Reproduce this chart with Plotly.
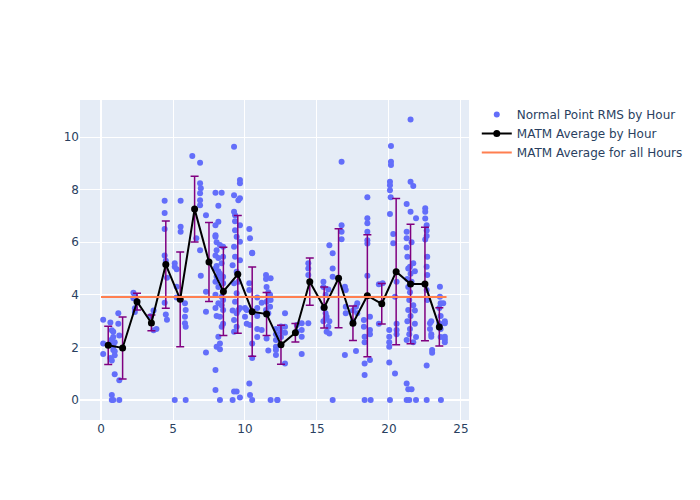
import plotly.graph_objects as go

# Hourly MATM averages (plotted at hour + 0.5) and their spread
avg_hours = [h + 0.5 for h in range(24)]
avg_values = [2.08, 1.98, 3.74, 2.93, 5.15, 3.83, 7.26, 5.25, 4.13, 4.78, 3.36, 3.27,
              2.10, 2.56, 4.50, 3.52, 4.63, 2.92, 3.97, 3.66, 4.88, 4.41, 4.41, 2.78]
avg_errors = [0.73, 1.18, 0.32, 0.30, 1.66, 1.80, 1.25, 1.50, 1.68, 2.24, 1.70, 0.82,
              0.74, 0.35, 0.90, 0.78, 1.88, 0.66, 2.32, 0.77, 2.78, 2.27, 2.16, 0.73]
overall_avg = 3.92
overall_span = [0, 24]

# Normal point RMS samples: each hour position with the values seen there
rms_groups = [
    (0.15, [3.05, 2.15, 1.75]),
    (0.65, [2.95, 2.15, 1.6]),
    (0.75, [2.65, 1.5, 0.0, 0.19, 2.3]),
    (0.85, [2.4, 1.9, 2.6, 2.05, 0.0]),
    (0.95, [1.7, 2.2, 0.98, 1.85]),
    (1.2, [3.3, 2.9]),
    (1.27, [2.45, 0.75, 0.0]),
    (2.25, [4.08, 3.87]),
    (2.35, [3.49, 3.35, 3.95]),
    (3.45, [3.2]),
    (3.65, [3.4, 2.65]),
    (3.85, [2.7]),
    (4.42, [7.58, 7.11, 6.5, 5.5, 3.7]),
    (4.5, [5.3, 3.25]),
    (4.58, [4.65, 3.05]),
    (5.12, [5.2, 5.07, 0.0]),
    (5.25, [4.97, 4.31, 3.9]),
    (5.53, [7.58, 6.59, 6.4]),
    (5.83, [3.68, 3.17, 2.92]),
    (5.88, [3.42, 2.79, 0.0]),
    (6.34, [9.28]),
    (6.62, [6.15]),
    (6.88, [9.02, 8.24, 7.86, 7.6, 7.41, 5.7]),
    (6.93, [8.05, 4.73]),
    (7.29, [7.03, 4.12, 3.36, 1.81]),
    (7.95, [7.88, 6.65, 6.21, 6.27, 5.5, 5.0, 4.5, 4.0, 3.5, 1.14, 0.38]),
    (8.03, [6.0, 5.1, 4.7, 3.2, 2.03, 5.7]),
    (8.15, [7.39, 6.78, 3.68, 2.41, 5.4, 4.9, 4.3]),
    (8.26, [3.17, 2.15, 1.93, 0.0, 4.8, 5.9]),
    (8.38, [7.88, 3.93, 2.79, 4.6, 3.6, 5.2]),
    (8.48, [5.83, 5.45, 4.69, 4.44, 3.42, 2.9, 3.8]),
    (9.14, [5.13, 0.0, 3.4]),
    (9.24, [9.63, 7.79, 7.16, 5.83, 4.44, 3.04, 0.32, 2.6]),
    (9.31, [7.03, 6.46, 5.45, 3.74, 6.8]),
    (9.42, [6.21, 4.88, 4.06, 2.79, 0.32, 3.3]),
    (9.54, [7.6, 3.42, 4.5]),
    (9.65, [8.37, 7.67, 6.65, 6.02, 5.32, 0.1, 3.5, 8.24]),
    (10.0, [3.17, 3.5]),
    (10.12, [3.42, 2.9]),
    (10.3, [6.5, 4.44, 4.18, 0.63]),
    (10.35, [6.15, 2.85, 0.19]),
    (10.5, [5.6, 5.58, 2.15, 1.6, 0.0]),
    (10.85, [3.9, 3.5, 3.2, 2.7, 2.4]),
    (11.16, [2.66, 3.7]),
    (11.46, [4.75, 4.6, 3.42]),
    (11.5, [4.3, 3.74, 2.34]),
    (11.62, [4.1, 3.93, 1.88, 3.3]),
    (11.74, [3.55, 4.0]),
    (11.78, [4.63, 3.8, 0.0]),
    (12.15, [2.7, 2.5, 2.28, 2.03, 1.71, 1.9]),
    (12.25, [0.0, 0.0]),
    (12.5, [2.8, 2.6, 2.4]),
    (12.78, [3.3, 2.79, 2.56, 1.39]),
    (13.6, [2.85, 2.6]),
    (13.94, [2.92, 2.66, 2.41, 1.75]),
    (14.4, [5.2, 5.0, 4.75, 2.92]),
    (15.45, [4.5, 4.3, 3.5, 3.0]),
    (15.6, [4.0, 3.3, 3.1]),
    (15.67, [3.17, 2.6]),
    (15.79, [2.79, 4.2]),
    (15.86, [2.53, 5.89, 3.0]),
    (16.09, [5.58, 5.0, 4.69, 0.0]),
    (16.71, [9.06, 6.65, 6.4, 6.11]),
    (16.94, [4.31, 1.71]),
    (17.0, [4.18, 3.55, 3.3]),
    (17.5, [3.4, 3.0]),
    (17.71, [3.55, 1.86]),
    (17.8, [3.68, 3.3]),
    (18.26, [3.04, 2.79]),
    (18.31, [2.41, 1.39, 0.95, 0.0, 2.2]),
    (18.5, [7.71, 6.91, 6.72, 6.4, 6.08, 5.95, 4.73]),
    (18.68, [3.17, 2.66, 2.5, 1.52]),
    (18.73, [0.0]),
    (19.3, [4.4, 2.9]),
    (19.56, [4.44]),
    (20.02, [2.66, 2.41, 2.2, 2.03, 1.43]),
    (20.07, [8.3, 8.17, 7.98, 7.07, 0.0]),
    (20.14, [9.66, 9.06, 8.94]),
    (20.12, [7.71]),
    (20.3, [6.31, 5.96]),
    (20.42, [3.93, 1.01]),
    (20.53, [2.66, 2.9, 2.5, 4.5]),
    (21.23, [7.45, 6.4, 6.15, 2.28, 0.63, 0.0, 5.8]),
    (21.28, [5.45, 4.6, 3.0]),
    (21.34, [3.42, 0.41, 5.0, 4.3]),
    (21.41, [0.0, 2.5, 3.8]),
    (21.46, [5.07, 4.1, 2.7]),
    (21.5, [10.67, 8.3, 7.16, 4.8, 3.2]),
    (21.57, [0.41, 6.0, 4.5]),
    (21.69, [8.14, 5.2, 3.6, 2.2]),
    (21.8, [4.9, 3.4, 2.9]),
    (21.88, [6.91, 2.4, 0.0]),
    (22.52, [7.29, 7.16, 6.9, 6.1]),
    (22.62, [6.65, 6.45, 6.24, 5.07, 4.18, 1.31, 0.0]),
    (22.66, [5.45, 4.75, 3.8]),
    (22.85, [2.92, 2.7]),
    (22.94, [2.41, 3.0, 2.5]),
    (23.0, [1.9, 1.8]),
    (23.5, [2.92, 3.5]),
    (23.54, [4.31, 3.93]),
    (23.59, [3.68, 3.2, 2.7, 2.4]),
    (23.61, [0.0]),
    (23.77, [3.68]),
    (23.88, [2.92, 2.41, 2.3, 2.2, 3.0]),
]

rms_hours = [h for h, ys in rms_groups for _ in ys]
rms_values = [y for _, ys in rms_groups for y in ys]

x_ticks = [0, 5, 10, 15, 20, 25]
y_ticks = [0, 2, 4, 6, 8, 10]

fig = go.Figure()
fig.add_trace(go.Scatter(
    x=rms_hours, y=rms_values, mode="markers",
    name="Normal Point RMS by Hour",
    marker=dict(color="#636efa", size=6),
))
fig.add_trace(go.Scatter(
    x=avg_hours, y=avg_values, mode="lines+markers",
    name="MATM Average by Hour",
    line=dict(color="black", width=2),
    marker=dict(color="black", size=7),
    error_y=dict(type="data", array=avg_errors, visible=True,
                 color="purple", thickness=1.5, width=4),
))
fig.add_trace(go.Scatter(
    x=overall_span, y=[overall_avg, overall_avg], mode="lines",
    name="MATM Average for all Hours",
    line=dict(color="#ff7f50", width=2),
))

fig.update_layout(
    width=700, height=500,
    template="plotly",
    font=dict(family="DejaVu Sans"),
    margin=dict(l=80, r=80, t=100, b=80),
    xaxis=dict(range=[-1.46, 25.56], tickvals=x_ticks),
    yaxis=dict(range=[-0.76, 11.41], tickvals=y_ticks),
)

fig.write_html("out.html")
